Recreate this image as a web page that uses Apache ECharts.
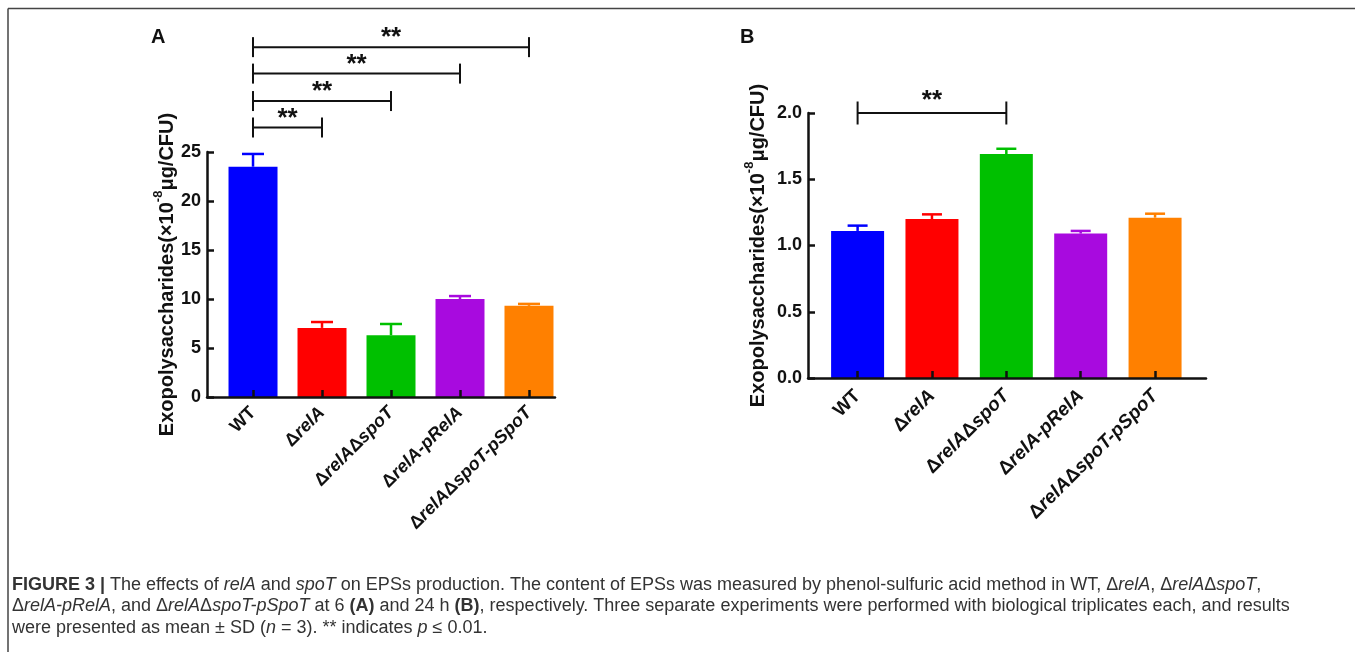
<!DOCTYPE html>
<html>
<head>
<meta charset="utf-8">
<script src="https://cdn.jsdelivr.net/npm/echarts@6/dist/echarts.min.js"></script>
<style>
  html, body { margin: 0; padding: 0; background: #fff; }
  #main { width: 1355px; height: 652px; }
</style>
</head>
<body>
<div id="main"></div>
<script>
// strains, same order in both panels
var categories = ['WT', 'ΔrelA', 'ΔrelAΔspoT', 'ΔrelA-pRelA', 'ΔrelAΔspoT-pSpoT']
var barColors = ['#0000FF', '#FF0000', '#00C000', '#A80ADF', '#FF8000']

// panel A, 6 h
var meansA = [23.5, 7.05, 6.3, 10.0, 9.3]
var sdA = [1.3, 0.6, 1.15, 0.3, 0.2]
var ticksA = [0, 5, 10, 15, 20, 25]
// significance: [from, to, bracket level]
var sigA = [[0, 1, 27.5], [0, 2, 30.2], [0, 3, 33.0], [0, 4, 35.7]]

// panel B, 24 h
var meansB = [1.11, 1.20, 1.69, 1.09, 1.21]
var sdB = [0.04, 0.035, 0.04, 0.02, 0.03]
var ticksB = [0, 0.5, 1.0, 1.5, 2.0]
var sigB = [[0, 2, 2.0]]

var FONT = 'Liberation Sans, Arial, sans-serif'
var yName = 'Exopolysaccharides(×10{sup|-8}μg/CFU)'

function catLabel(v) {
  var s = categories[v]
  if (s === 'WT') return s
  return s.split('Δ').map(function (p) { return p ? '{i|' + p + '}' : '' }).join('Δ')
}

function barData(means) {
  return means.map(function (m, i) {
    return { value: [i, m], itemStyle: { color: barColors[i] } }
  })
}
function errData(means, sd) {
  return means.map(function (m, i) { return [i, m, sd[i]] })
}

function errRender(capHalf) {
  return function (params, api) {
    var x = api.value(0), m = api.value(1), s = api.value(2)
    var p0 = api.coord([x, m])
    var p1 = api.coord([x, m + s])
    var c = barColors[params.dataIndex]
    return {
      type: 'group',
      children: [
        { type: 'line', shape: { x1: p0[0], y1: p0[1], x2: p1[0], y2: p1[1] }, style: { stroke: c, lineWidth: 2.5 } },
        { type: 'line', shape: { x1: p1[0] - capHalf, y1: p1[1], x2: p1[0] + capHalf, y2: p1[1] }, style: { stroke: c, lineWidth: 2.5 } }
      ]
    }
  }
}

function sigRender(arm, starOff) {
  return function (params, api) {
    var a = api.coord([api.value(0), api.value(2)])
    var b = api.coord([api.value(1), api.value(2)])
    var st = { stroke: '#111', lineWidth: 2 }
    return {
      type: 'group',
      children: [
        { type: 'line', shape: { x1: a[0], y1: a[1], x2: b[0], y2: b[1] }, style: st },
        { type: 'line', shape: { x1: a[0], y1: a[1] - arm, x2: a[0], y2: a[1] + arm }, style: st },
        { type: 'line', shape: { x1: b[0], y1: b[1] - arm, x2: b[0], y2: b[1] + arm }, style: st },
        {
          type: 'text',
          style: {
            text: '**', x: (a[0] + b[0]) / 2, y: a[1] - starOff,
            align: 'center', verticalAlign: 'middle',
            fontSize: 26, fontWeight: 'bold', fontFamily: FONT, fill: '#111'
          }
        }
      ]
    }
  }
}

function xAxisOf(grid, max, size, margin) {
  return {
    type: 'value', gridIndex: grid, min: -0.667, max: max, z: 5,
    axisLine: { onZero: false, lineStyle: { color: '#111', width: 2.5 } },
    axisTick: { inside: true, length: 7, lineStyle: { color: '#111', width: 2.5 }, customValues: [0, 1, 2, 3, 4] },
    splitLine: { show: false },
    axisLabel: {
      customValues: [0, 1, 2, 3, 4], rotate: 45, margin: margin,
      formatter: catLabel,
      fontSize: size, fontWeight: 'bold', fontFamily: FONT, color: '#111',
      rich: { i: { fontSize: size, fontWeight: 'bold', fontStyle: 'italic', fontFamily: FONT, color: '#111' } }
    }
  }
}

function yAxisOf(grid, ticks, gap, fmt) {
  return {
    type: 'value', gridIndex: grid,
    min: ticks[0], max: ticks[ticks.length - 1], interval: ticks[1] - ticks[0],
    name: yName, nameLocation: 'middle', nameGap: gap, nameRotate: 90, nameMoveOverlap: false,
    nameTextStyle: {
      fontSize: 20, lineHeight: 30, fontWeight: 'bold', fontFamily: FONT, color: '#111',
      rich: { sup: { fontSize: 13, fontWeight: 'bold', fontFamily: FONT, color: '#111', verticalAlign: 'top' } }
    },
    axisLine: { show: true, onZero: false, lineStyle: { color: '#111', width: 2.5 } },
    axisTick: { show: true, inside: true, length: 7, lineStyle: { color: '#111', width: 2.5 } },
    splitLine: { show: false },
    axisLabel: { margin: 6, fontSize: 18, fontWeight: 'bold', fontFamily: FONT, color: '#111', formatter: fmt }
  }
}

var chart = echarts.init(document.getElementById('main'), null, { renderer: 'canvas' })

var option = {
  backgroundColor: '#fff',
  animation: false,
  grid: [
    { left: 207, top: 152, width: 348, height: 245, outerBoundsMode: 'none' },
    { left: 808, top: 113, width: 398, height: 265, outerBoundsMode: 'none' }
  ],
  xAxis: [xAxisOf(0, 4.377, 18, 13), xAxisOf(1, 4.685, 19, 15)],
  yAxis: [
    yAxisOf(0, ticksA, 25, function (v) { return String(v) }),
    yAxisOf(1, ticksB, 35, function (v) { return v.toFixed(1) })
  ],
  series: [
    { type: 'bar', xAxisIndex: 0, yAxisIndex: 0, barWidth: 49, data: barData(meansA), z: 2 },
    { type: 'custom', xAxisIndex: 0, yAxisIndex: 0, data: errData(meansA, sdA), renderItem: errRender(11), z: 3 },
    { type: 'custom', xAxisIndex: 0, yAxisIndex: 0, data: sigA, renderItem: sigRender(10, 9), z: 3 },
    { type: 'bar', xAxisIndex: 1, yAxisIndex: 1, barWidth: 53, data: barData(meansB), z: 2 },
    { type: 'custom', xAxisIndex: 1, yAxisIndex: 1, data: errData(meansB, sdB), renderItem: errRender(10), z: 3 },
    { type: 'custom', xAxisIndex: 1, yAxisIndex: 1, data: sigB, renderItem: sigRender(11.5, 12), z: 3 }
  ],
  graphic: [
    // figure frame (top and left edges visible)
    { type: 'line', shape: { x1: 8, y1: 8.5, x2: 1355, y2: 8.5 }, style: { stroke: '#444', lineWidth: 1.5 } },
    { type: 'line', shape: { x1: 8, y1: 8.5, x2: 8, y2: 652 }, style: { stroke: '#444', lineWidth: 1.5 } },
    { type: 'text', left: 151, top: 27, style: { text: 'A', fontSize: 20, fontWeight: 'bold', fontFamily: FONT, fill: '#111' } },
    { type: 'text', left: 740, top: 27, style: { text: 'B', fontSize: 20, fontWeight: 'bold', fontFamily: FONT, fill: '#111' } },
    {
      type: 'text', left: 12, top: 574,
      style: {
        text: '{b|FIGURE 3 |} The effects of {i|relA} and {i|spoT} on EPSs production. The content of EPSs was measured by phenol-sulfuric acid method in WT, Δ{i|relA}, Δ{i|relA}Δ{i|spoT},\n' +
          'Δ{i|relA-pRelA}, and Δ{i|relA}Δ{i|spoT-pSpoT} at 6 {b|(A)} and 24 h {b|(B)}, respectively. Three separate experiments were performed with biological triplicates each, and results\n' +
          'were presented as mean ± SD ({i|n} = 3). ** indicates {i|p} ≤ 0.01.',
        fontSize: 18, lineHeight: 21.5, fontFamily: FONT, fill: '#333',
        rich: {
          b: { fontSize: 18, lineHeight: 21.5, fontWeight: 'bold', fontFamily: FONT, fill: '#333' },
          i: { fontSize: 18, lineHeight: 21.5, fontStyle: 'italic', fontFamily: FONT, fill: '#333' }
        }
      }
    }
  ]
}

chart.setOption(option)
</script>
</body>
</html>
